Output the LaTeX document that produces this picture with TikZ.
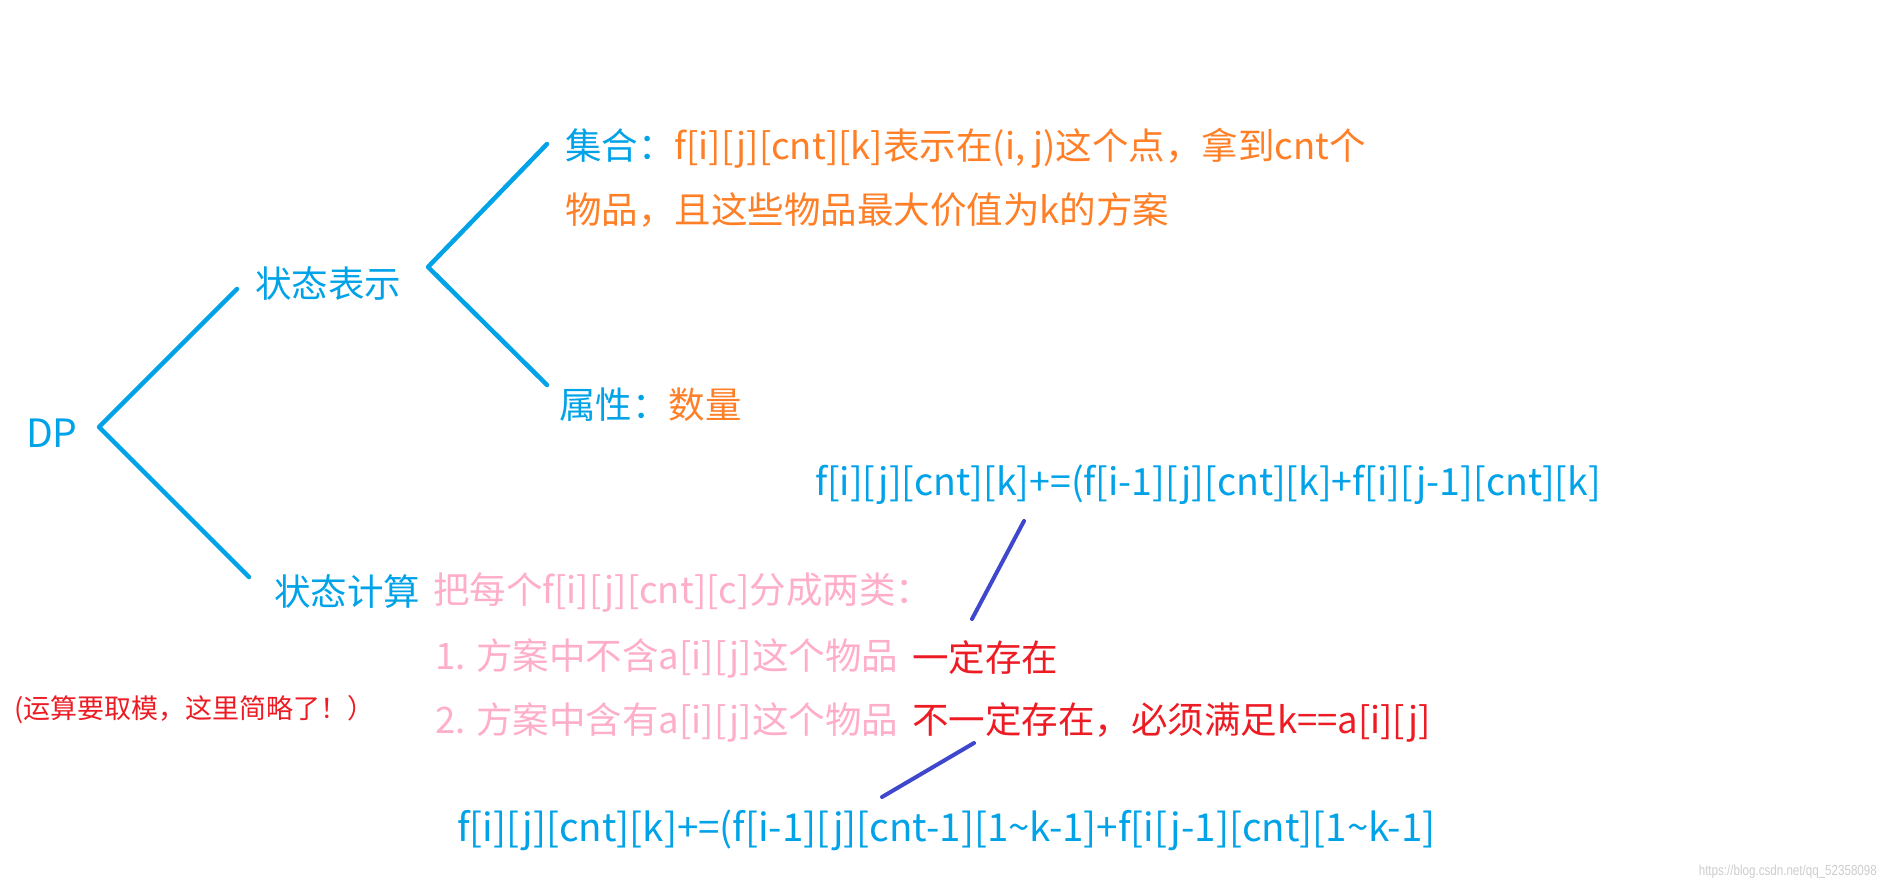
\documentclass[tikz,border=0pt]{standalone}
\usepackage{fontspec}
\setmainfont{Noto Sans CJK SC}
\newfontfamily\wmfont[FakeStretch=0.8]{Liberation Sans}
\definecolor{cblue}{RGB}{0,162,232}
\definecolor{corange}{RGB}{255,127,39}
\definecolor{cpink}{RGB}{255,174,201}
\definecolor{cred}{RGB}{237,28,36}
\definecolor{cindigo}{RGB}{63,72,204}
\definecolor{cwm}{RGB}{205,205,205}
\tikzset{
  txt/.style={inner sep=0pt, outer sep=0pt, anchor=west, font=\fontsize{36.5}{44}\selectfont},
  formula/.style={inner sep=0pt, outer sep=0pt, anchor=west, text=cblue, font=\fontsize{#1}{44}\selectfont},
  small/.style={inner sep=0pt, outer sep=0pt, anchor=west, font=\fontsize{27}{32}\selectfont},
  bracket/.style={draw=cblue, line width=4.5pt, line cap=round, line join=round},
  pen/.style={draw=cindigo, line width=4pt, line cap=round},
}
\begin{document}
\begin{tikzpicture}[x=1pt,y=-1pt]
\useasboundingbox (0,0) rectangle (1886,891);
% texts
\node[txt, text=cblue, font=\fontsize{39}{44}\selectfont] (dp) at (26,433) {DP};
\node[txt, text=cblue] (rep) at (255,284) {状态表示};
\node[txt] (set1) at (565,148) {\textcolor{cblue}{集合：}\textcolor{corange}{f[i][j][cnt][k]表示在(i, j)这个点，拿到cnt个}};
\node[txt, text=corange] (set2) at (565,210) {物品，且这些物品最大价值为k的方案};
\node[txt] (attr) at (559,405) {\textcolor{cblue}{属性：}\textcolor{corange}{数量}};
\node[formula=37.5] (f1) at (815,485) {f[i][j][cnt][k]+=(f[i-1][j][cnt][k]+f[i][j-1][cnt][k]};
\node[txt, text=cblue] (calc) at (274,592) {状态计算};
\node[txt, text=cpink] (split) at (433,592) {把每个f[i][j][cnt][c]分成两类：};
\node[txt, text=cpink] (c1) at (435,658) {1. 方案中不含a[i][j]这个物品};
\node[txt, text=cred] (c1r) at (912,658) {一定存在};
\node[txt, text=cpink] (c2) at (435,722) {2. 方案中含有a[i][j]这个物品};
\node[txt, text=cred] (c2r) at (912,722) {不一定存在，必须满足k==a[i][j]};
\node[small, text=cred] (note) at (14,710) {(运算要取模，这里简略了！）};
\node[formula=38.5] (f2) at (457,830) {f[i][j][cnt][k]+=(f[i-1][j][cnt-1][1\textasciitilde k-1]+f[i[j-1][cnt][1\textasciitilde k-1]};
\node[inner sep=0pt, anchor=east, text=cwm, font=\wmfont\fontsize{14.5}{18}\selectfont] (wm) at (1877,872) {https://blog.csdn.net/qq\_52358098};
% brackets
\coordinate (b1v) at (99,427);
\coordinate (b1u) at (237,289);
\coordinate (b1d) at (249,577);
\draw[bracket] (b1u) -- (b1v) -- (b1d);
\coordinate (b2v) at (428,267);
\coordinate (b2u) at (547,144);
\coordinate (b2d) at (547,385);
\draw[bracket] (b2u) -- (b2v) -- (b2d);
% pen strokes
\coordinate (p1a) at (1024,521);
\coordinate (p1b) at (972,619);
\draw[pen] (p1a) -- (p1b);
\coordinate (p2a) at (974,743);
\coordinate (p2b) at (882,797);
\draw[pen] (p2a) -- (p2b);
\end{tikzpicture}
\end{document}
